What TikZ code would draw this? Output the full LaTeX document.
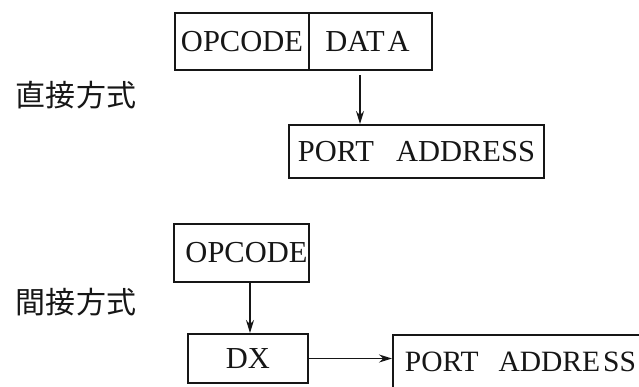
\documentclass[tikz,border=0pt]{standalone}
\usepackage{fontspec}
\setmainfont{Liberation Serif}
\newfontfamily\cjk{Noto Sans CJK JP}
\usetikzlibrary{arrows.meta}
\definecolor{ink}{HTML}{161616}
\tikzset{
  field/.style={draw=ink, line width=2pt, inner sep=0pt, text=ink,
    font=\fontsize{30.5}{30}\selectfont, anchor=center},
  arr/.style={draw=ink, line width=1.6pt, -{Stealth[length=13pt,width=8pt]}},
  caption/.style={text=ink, font=\cjk\fontsize{30}{30}\selectfont, inner sep=0pt}
}
\begin{document}
\begin{tikzpicture}[x=1pt,y=-1pt]
  \useasboundingbox (0,0) rectangle (639,386);
  \clip (0,0) rectangle (639,386);

  % direct addressing: port address held in the instruction
  \node[caption] (lab1) at (76,95) {直接方式};
  \node[field, minimum width=134pt, minimum height=57pt] (op1) at (242,41.5) {OPCODE};
  \node[field, minimum width=123pt, minimum height=57pt] (data) at (370.5,41.5) {\hspace{-6pt}DAT\kern3pt A};
  \node[field, minimum width=255pt, minimum height=53pt] (port1) at (416.5,151.5)
    {PORT\hspace{22pt}ADDRESS};
  \draw[arr, shorten <=4pt] ([xshift=-10.5pt]data.south) -- ([xshift=-10.5pt]data.south |- port1.north);

  % indirect addressing: port address taken from DX
  \node[caption] (lab2) at (76,302) {間接方式};
  \node[field, minimum width=135pt, minimum height=58pt] (op2) at (241.5,253) {\hspace{10pt}OPCODE};
  \node[field, minimum width=120pt, minimum height=49pt] (dx) at (248,358.5) {DX};
  \node[field, minimum width=255pt, minimum height=53pt, font=\fontsize{29.5}{30}\selectfont]
    (port2) at (520.5,361.5) {PORT\hspace{20pt}ADDRE\kern3pt SS\hspace{2pt}};
  \draw[arr] ([xshift=8.5pt]op2.south) -- ([xshift=8.5pt]op2.south |- dx.north);
  \draw[arr] (dx.east) -- (dx.east -| port2.west);
\end{tikzpicture}
\end{document}
